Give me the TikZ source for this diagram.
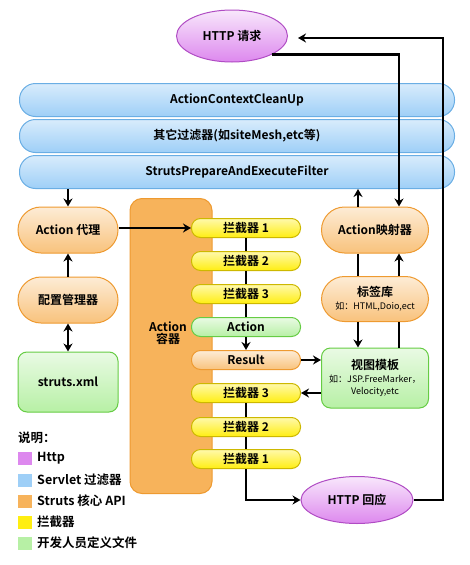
\documentclass[tikz,border=0pt]{standalone}
\usepackage{fontspec}
\setmainfont{Noto Sans CJK SC}[BoldFont={Noto Sans CJK SC Bold}]
\usetikzlibrary{shapes.geometric,arrows.meta}
\definecolor{httpc}{HTML}{DD88EE}
\definecolor{httpd}{HTML}{B04CC4}
\definecolor{servc}{HTML}{9ECFF7}
\definecolor{servd}{HTML}{6AAEE4}
\definecolor{corec}{HTML}{F7B35B}
\definecolor{cored}{HTML}{EE9A30}
\definecolor{intc}{HTML}{FFEE11}
\definecolor{intd}{HTML}{CDB800}
\definecolor{devc}{HTML}{B7F0A5}
\definecolor{devd}{HTML}{66CC44}
\newcommand{\smalltxt}{\fontsize{9}{9}\selectfont\mdseries}
\tikzset{
  every node/.style={font=\fontsize{12}{14}\selectfont\bfseries},
  httpnode/.style={ellipse, draw=httpd, line width=1pt, top color=httpc!20, bottom color=httpc},
  filterbar/.style={draw=servd, line width=1pt, rounded corners=16pt, top color=servc!40, bottom color=servc,
    minimum width=435pt, minimum height=33pt},
  corepill/.style={draw=cored, line width=1pt, rounded corners=23pt, top color=corec!25, bottom color=corec!80,
    minimum height=46pt, align=center},
  devbox/.style={draw=devd, line width=1pt, rounded corners=9pt, top color=devc!30, bottom color=devc,
    minimum height=60pt, align=center},
  intpill/.style={draw=intd, line width=1pt, rounded corners=9pt, top color=intc!35, bottom color=intc,
    minimum width=109pt, minimum height=19pt, inner sep=0pt},
  swatch/.style={minimum width=14pt, minimum height=13pt, inner sep=0pt},
  legtext/.style={anchor=west, inner sep=0pt, font=\fontsize{12.5}{14}\selectfont\bfseries},
  ln/.style={line width=2.6pt},
  arr/.style={line width=2.6pt, -{Stealth[length=8pt,width=9pt]}}
}
\begin{document}
\begin{tikzpicture}[x=1pt,y=-1pt]
\useasboundingbox (0,0) rectangle (470,565);

\node[httpnode, minimum width=111pt, minimum height=52pt] (req) at (232,36) {HTTP 请求};

\node[filterbar] (bar1) at (237,100) {ActionContextCleanUp};
\node[filterbar] (bar2) at (237,136) {其它过滤器(如siteMesh,etc等)};
\node[filterbar] (bar3) at (237,172) {StrutsPrepareAndExecuteFilter};

\node[draw=cored, line width=1pt, rounded corners=12pt, fill=corec, minimum width=82pt, minimum height=295pt] (box) at (171,346) {};
\node[align=center, inner sep=0pt, font=\fontsize{12}{12}\selectfont\bfseries] (boxlabel) at (168,333) {Action\\容器};

\node[corepill, minimum width=100pt] (proxy) at (68,230) {Action 代理};
\node[corepill, minimum width=100pt] (conf) at (68,300) {配置管理器};
\node[devbox, minimum width=100pt] (xml) at (68,382) {struts.xml};

\node[intpill] (i1) at (246,228) {拦截器 1};
\node[intpill] (i2) at (246,261) {拦截器 2};
\node[intpill] (i3) at (246,294) {拦截器 3};
\node[intpill, draw=devd, top color=devc!30, bottom color=devc] (act) at (246,327) {Action};
\node[intpill, draw=cored, top color=corec!25, bottom color=corec!80] (res) at (246,360) {Result};
\node[intpill] (j3) at (246,393) {拦截器 3};
\node[intpill] (j2) at (246,427) {拦截器 2};
\node[intpill] (j1) at (246,459) {拦截器 1};

\node[corepill, minimum width=107pt] (map) at (375,230) {Action映射器};
\node[corepill, minimum width=107pt, minimum height=45pt] (tag) at (375,299)
  {标签库\\[-1pt]\smalltxt 如：HTML,Doio,ect};
\node[devbox, minimum width=107pt] (view) at (375,378)
  {视图模板\\[-1pt]\smalltxt 如：JSP.FreeMarker，\\[-2pt]\smalltxt Velocity,etc};

\node[httpnode, minimum width=112pt, minimum height=47pt] (resp) at (357,500) {HTTP 回应};

\coordinate (outer) at (443,38);

\draw[arr] (proxy |- bar3.south) -- (proxy.north);
\draw[arr] (conf.north) -- (proxy.south);
\draw[line width=2.6pt, {Stealth[length=8pt,width=9pt]}-{Stealth[length=8pt,width=9pt]}] (conf.south) -- (xml.north);
\draw[arr] (i1 -| proxy.east) -- (i1.west);

\draw[ln] (i1.south) -- (i2.north);
\draw[ln] (i2.south) -- (i3.north);
\draw[ln] (i3.south) -- (act.north);
\draw[arr] (act.south) -- (res.north);
\draw[arr] (res.east) -- (res -| view.west);
\draw[arr] (view.west |- j3) -- (j3.east);
\draw[ln] (j3.south) -- (j2.north);
\draw[ln] (j2.south) -- (j1.north);
\draw[arr, line join=miter] (j1.south) |- (resp.west);

\draw[arr, line join=miter] (resp.east) -| (outer) -- ([xshift=10pt]req.east |- outer);
\draw[arr, line join=miter] (req.south east) -| ([xshift=24pt]map.north);
\draw[arr] ([xshift=-17pt]map.north) -- ([xshift=-17pt]map.north |- bar3.south);
\draw[ln] ([xshift=-17pt]map.south) -- ([xshift=-17pt]tag.north);
\draw[arr] ([xshift=-17pt]tag.south) -- ([xshift=-17pt]view.north);
\draw[ln] ([xshift=24pt]view.north) -- ([xshift=24pt]tag.south);
\draw[arr] ([xshift=24pt]tag.north) -- ([xshift=24pt]map.south);

\node[legtext] (legtitle) at (18,438) {说明：};
\node[swatch, fill=httpc] (sw1) at (25,458) {};
\node[swatch, fill=servc] (sw2) at (25,480) {};
\node[swatch, fill=corec] (sw3) at (25,501) {};
\node[swatch, fill=intc] (sw4) at (25,522) {};
\node[swatch, fill=devc] (sw5) at (25,543) {};
\node[legtext] (lt1) at (37,458) {Http};
\node[legtext] (lt2) at (37,480) {Servlet 过滤器};
\node[legtext] (lt3) at (37,501) {Struts 核心 API};
\node[legtext] (lt4) at (37,522) {拦截器};
\node[legtext] (lt5) at (37,543) {开发人员定义文件};
\end{tikzpicture}
\end{document}
